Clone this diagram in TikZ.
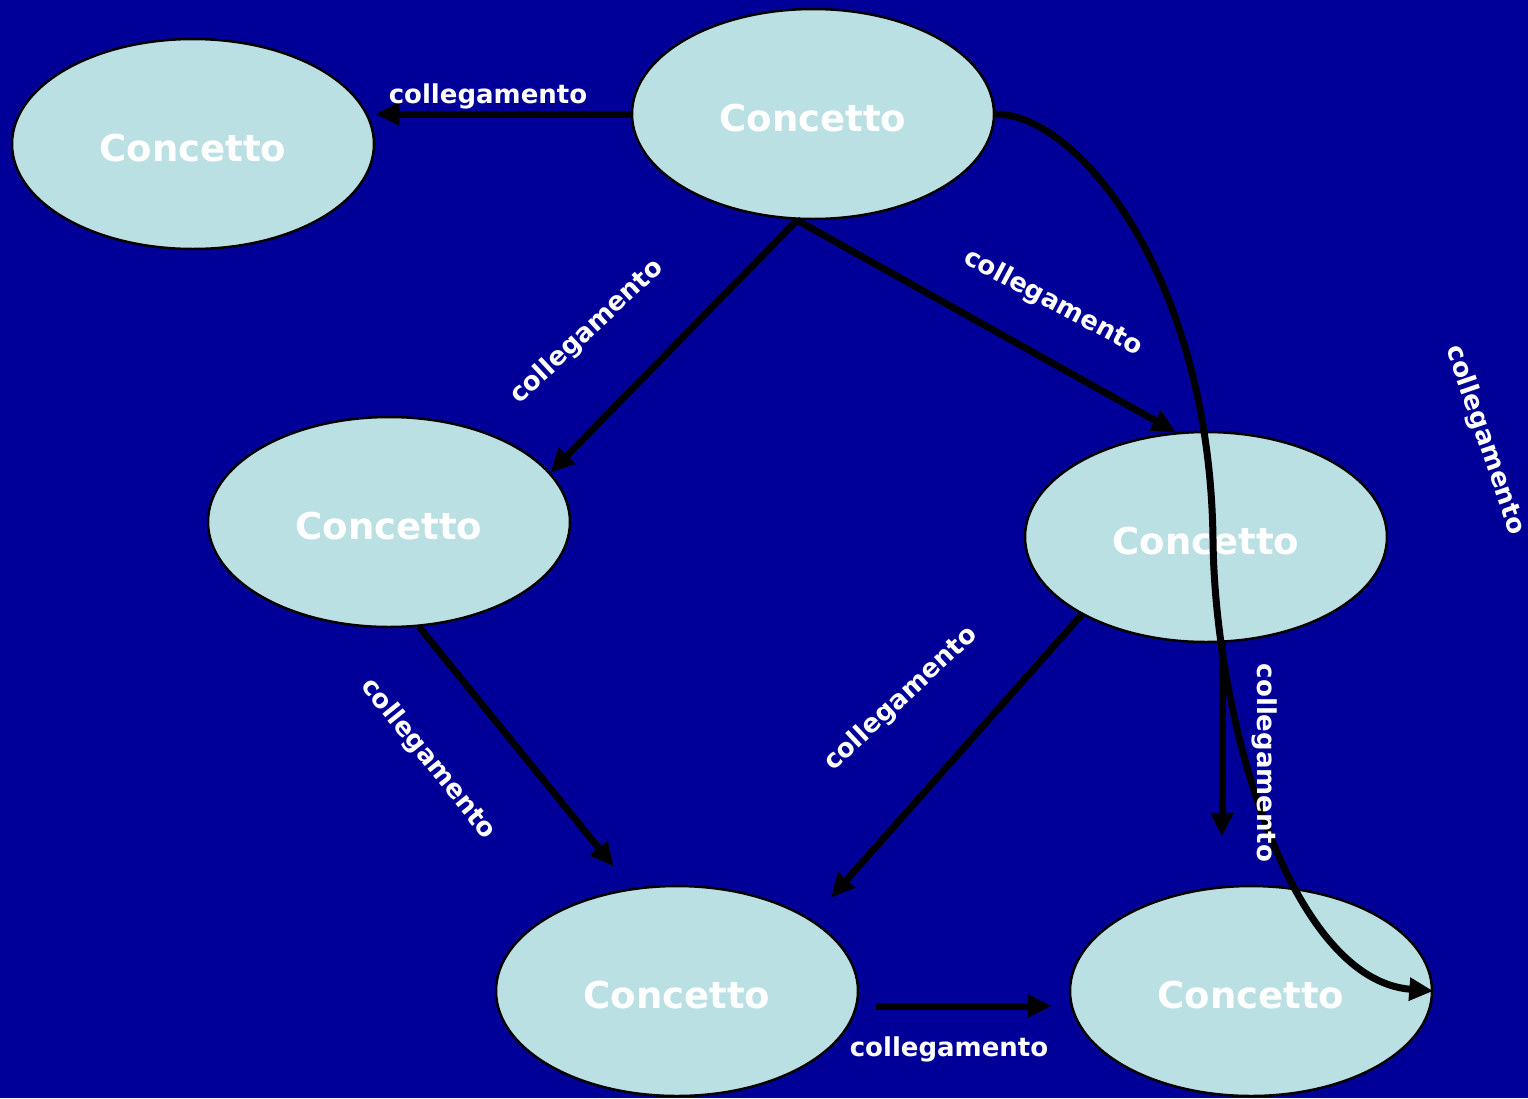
\documentclass[tikz,border=0pt]{standalone}
\usepackage{fontspec}
\setmainfont{DejaVu Sans}
\usetikzlibrary{shapes.geometric,arrows.meta}
\definecolor{bgblue}{RGB}{0,0,153}
\definecolor{concept}{RGB}{187,224,227}
% concept text, set a little below the ellipse centre
\newcommand{\conceptname}{\raisebox{-4pt}[\height][0pt]{Concetto}}
\begin{document}
\begin{tikzpicture}[x=1pt,y=-1pt,
  concetto/.style={ellipse,draw=black,line width=2.5pt,fill=concept,
    minimum width=362pt,minimum height=210pt,inner sep=0pt,
    text=white,font=\fontsize{37}{40}\selectfont\bfseries},
  link/.style={line width=7pt,draw=black,-{Triangle[length=24pt,width=22pt]}},
  linklabel/.style={text=white,inner sep=0pt,font=\fontsize{26}{30}\selectfont\bfseries}]
  % canvas
  \fill[bgblue] (0,0) rectangle (1528,1098);
  \useasboundingbox (0,0) rectangle (1528,1098);

  % concepts
  \node[concetto] (e1) at (193,144) {\conceptname};
  \node[concetto] (e2) at (813,114) {\conceptname};
  \node[concetto] (e3) at (389,522) {\conceptname};
  \node[concetto] (e4) at (1206,537) {\conceptname};
  \node[concetto] (e5) at (677,991) {\conceptname};
  \node[concetto] (e6) at (1251,991) {\conceptname};

  % links
  \draw[link] (e2.west) -- (e2.west -| e1.east);
  \draw[link] ([xshift=-16pt]e2.south) -- (e3.17);
  \draw[link] ([xshift=-16pt]e2.south) -- (e4.106);
  \draw[link] (e2.east) .. controls (1080,114) and (1210,280) .. (1213,540)
              .. controls (1215,720) and (1290,980) .. (e6.east);
  \draw[link,shorten >=48pt] ([xshift=16pt]e4.south) -- ([xshift=-29pt]e6.north);
  \draw[link,shorten >=28pt] (e3.286) -- (e5.114);
  \draw[link,shorten >=29pt] (e4.212) -- (e5.28);
  \draw[link,shorten <=17pt,shorten >=17pt] ([yshift=-15pt]e5.east) -- ([yshift=-15pt]e6.west);

  % link labels
  \node[linklabel] (l1) at (488,96) {collegamento};
  \node[linklabel,rotate=43] (l2) at (587,332) {collegamento};
  \node[linklabel,rotate=-28] (l3) at (1053,303) {collegamento};
  \node[linklabel,rotate=-71] (l4) at (1485,440) {collegamento};
  \node[linklabel,rotate=-90] (l5) at (1265,763) {collegamento};
  \node[linklabel,rotate=-51] (l6) at (428,759) {collegamento};
  \node[linklabel,rotate=43] (l7) at (901,699) {collegamento};
  \node[linklabel] (l8) at (949,1049) {collegamento};
\end{tikzpicture}
\end{document}
